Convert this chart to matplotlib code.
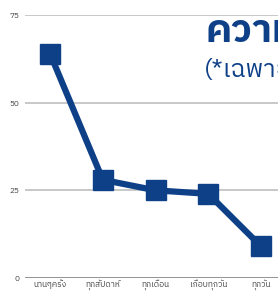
import matplotlib
matplotlib.use("Agg")
import matplotlib.pyplot as plt
from matplotlib import font_manager

categories = ["นานๆครั้ง", "ทุกสัปดาห์", "ทุกเดือน", "เกือบทุกวัน", "ทุกวัน"]
values = [64, 28, 25, 24, 9]
yticks = [0, 25, 50, 75]
title = "ความถี่"
subtitle = "(*เฉพาะ"

thai = sorted(set(f.name for f in font_manager.fontManager.ttflist if "Thai" in f.name))
plt.rcParams["font.family"] = thai + ["DejaVu Sans"]

blue = "#0e4088"

fig = plt.figure(figsize=(2.78, 2.94), dpi=100)
ax = fig.add_axes([25 / 278, 16 / 294, 253 / 278, 263 / 294])

x = list(range(len(categories)))
ax.plot(x, values, color=blue, lw=4.5, marker="s", ms=15, solid_joinstyle="miter",
        clip_on=False, zorder=3)

ax.set_ylim(0, 75)
ax.set_xlim(-0.474, 4.32)
ax.set_yticks(yticks)
ax.set_xticks(x)
ax.set_xticklabels(categories, fontsize=6, color="#444444")
ax.tick_params(axis="y", labelsize=6, colors="#444444", length=0, pad=4)
ax.tick_params(axis="x", length=0, pad=1)
for y in yticks:
    ax.axhline(y, color="#c4c4c4" if y else "#8a8a8a", lw=1.3, zorder=1)
for s in ax.spines.values():
    s.set_visible(False)

# title is cropped by the right edge, as in the original
fig.text(205 / 278, 1 - 31 / 294, title, fontsize=28, fontweight="bold", color=blue,
         va="center", ha="left")
fig.text(204 / 278, 1 - 71 / 294, subtitle, fontsize=18, color=blue, va="center", ha="left")

fig.savefig("out.png", dpi=100)
